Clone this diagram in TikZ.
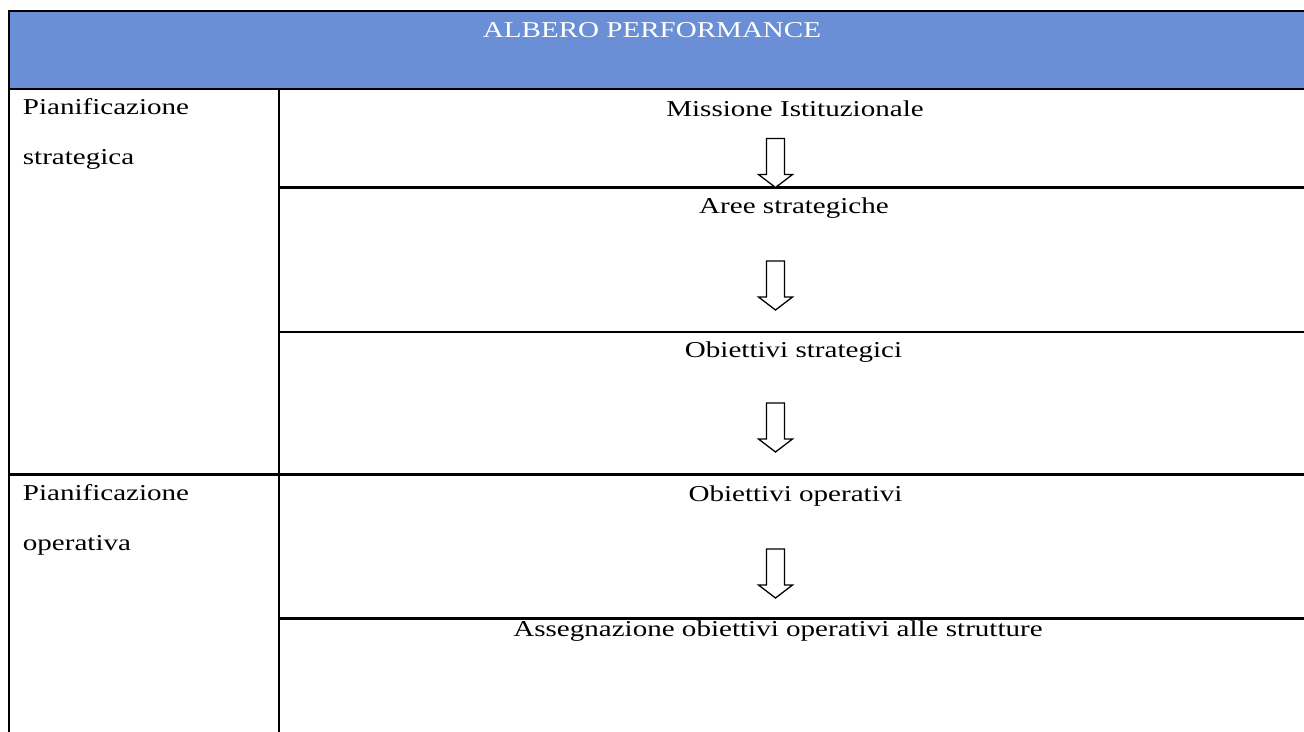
\documentclass[tikz,border=0pt]{standalone}
\usepackage{fontspec}
\setmainfont{Liberation Serif}
\usepackage{graphicx}
\definecolor{headblue}{RGB}{106,143,214}
\newcommand\widetxt[1]{\scalebox{1.28}[1]{#1}}
\tikzset{
  txt/.style={inner sep=0pt, font=\fontsize{22.7}{27}\selectfont},
  rule/.style={line width=2.3pt, line cap=rect},
  arrowline/.style={line width=1.3pt, line join=miter, fill=white},
  downarrow/.pic={\draw[arrowline] (-9,0) -- (-9,36) -- (-17,36) -- (0,49) -- (17,36) -- (9,36) -- (9,0) -- cycle;}
}
\begin{document}
\begin{tikzpicture}[x=1pt,y=-1pt]
\useasboundingbox (0,0) rectangle (1304,731);
% header
\fill[headblue] (9,11) rectangle (1310,89);
\draw[rule] (1310,11) -- (9,11) -- (9,740);
\draw[rule] (9,89) -- (1310,89);
\draw[rule] (279,89) -- (279,740);
\draw[rule] (279,187.5) -- (1310,187.5);
\draw[rule] (279,332) -- (1310,332);
\draw[rule] (9,474.5) -- (1310,474.5);
\draw[rule] (279,618.5) -- (1310,618.5);
% header text
\node[txt, anchor=base, text=white] (head) at (652,37) {\widetxt{ALBERO PERFORMANCE}};
% left column
\node[txt, anchor=base west] (ps1) at (22.7,114) {\widetxt{Pianificazione}};
\node[txt, anchor=base west] (ps2) at (22.7,164.5) {\widetxt{strategica}};
\node[txt, anchor=base west] (po1) at (22.7,500) {\widetxt{Pianificazione}};
\node[txt, anchor=base west] (po2) at (22.7,550) {\widetxt{operativa}};
% right column
\node[txt, anchor=base] (mi) at (795,116) {\widetxt{Missione Istituzionale}};
\node[txt, anchor=base] (ar) at (794,213) {\widetxt{Aree strategiche}};
\node[txt, anchor=base] (os) at (793.5,357) {\widetxt{Obiettivi strategici}};
\node[txt, anchor=base] (oo) at (795.5,501.5) {\widetxt{Obiettivi operativi}};
\node[txt, anchor=base] (as) at (778,636) {\widetxt{Assegnazione obiettivi operativi alle strutture}};
% block arrows
\pic (a1) at (775.5,138.5) {downarrow};
\pic (a2) at (775.5,261) {downarrow};
\pic (a3) at (775.5,403) {downarrow};
\pic (a4) at (775.5,549) {downarrow};
\end{tikzpicture}
\end{document}
